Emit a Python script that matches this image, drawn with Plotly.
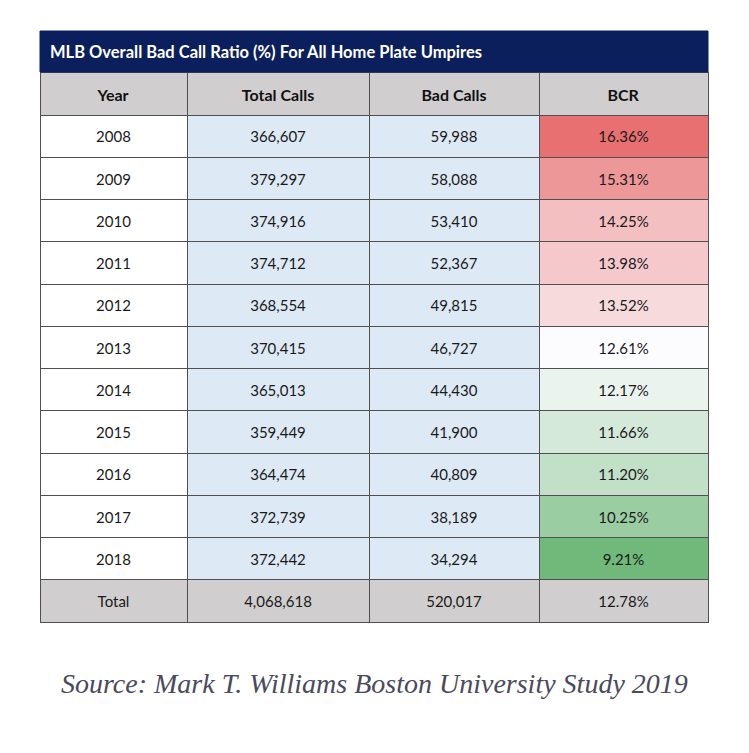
import plotly.graph_objects as go

# page has an 8px body margin; reference coords are converted accordingly
OFF = 8
W, H = 749 - 2 * OFF, 753 - 2 * OFF

title = "MLB Overall Bad Call Ratio (%) For All Home Plate Umpires"
headers = ["Year", "Total Calls", "Bad Calls", "BCR"]
years = ["2008", "2009", "2010", "2011", "2012", "2013", "2014", "2015", "2016", "2017", "2018"]
total_calls = [366607, 379297, 374916, 374712, 368554, 370415, 365013, 359449, 364474, 372739, 372442]
bad_calls = [59988, 58088, 53410, 52367, 49815, 46727, 44430, 41900, 40809, 38189, 34294]
bcr = [16.36, 15.31, 14.25, 13.98, 13.52, 12.61, 12.17, 11.66, 11.20, 10.25, 9.21]
total_label = "Total"
total_total_calls = 4068618
total_bad_calls = 520017
total_bcr = 12.78
source = "Source: Mark T. Williams Boston University Study 2019"

# 3-colour scale (red high, white median, green low)
RED = (233, 112, 112)
WHITE = (252, 252, 255)
GREEN = (112, 185, 122)
srt = sorted(bcr)
mid = srt[len(srt) // 2]
hi, lo = max(bcr), min(bcr)


def mix(a, b, t):
    return "rgb(%d,%d,%d)" % tuple(round(a[i] + (b[i] - a[i]) * t) for i in range(3))


def scale_color(v):
    if v >= mid:
        return mix(WHITE, RED, (v - mid) / (hi - mid))
    return mix(WHITE, GREEN, (mid - v) / (mid - lo))


def fx(px):
    return (px - OFF) / W


def fy(py):
    return 1 - (py - OFF) / H


GRAY = "#d0cece"
BLUE = "#dde9f5"
NAVY = "#0b1f5c"
LINE = "#505050"
CLEAR = "rgba(0,0,0,0)"

col_year = years + [total_label]
col_tc = [f"{v:,}" for v in total_calls] + [f"{total_total_calls:,}"]
col_bc = [f"{v:,}" for v in bad_calls] + [f"{total_bad_calls:,}"]
col_bcr = [f"{v:.2f}%" for v in bcr] + [f"{total_bcr:.2f}%"]

fill_year = ["white"] * len(years) + [GRAY]
fill_blue = [BLUE] * len(years) + [GRAY]
fill_bcr = [scale_color(v) for v in bcr] + [GRAY]

x0, x1 = 40, 708
ytitle0, ytop, ybot = 31, 72, 622
HEAD_H = 43
nrows = len(col_year)
row_h = (ybot - ytop - HEAD_H) / nrows
colw = [147, 182, 170, 169]

# shifts to vertically centre the (top-anchored) table text
S_HEAD, S_CELL = 4.5, 8.0

head_font = dict(family="Lato", size=16, color="#111111")
cell_font = dict(family="Lato", size=15, color="#1a1a1a")
hdr_vals = [f"<b>{h}</b>" for h in headers]
cell_vals = [col_year, col_tc, col_bc, col_bcr]

fig = go.Figure()
# background table: fills and grid lines
fig.add_trace(go.Table(
    domain=dict(x=[fx(x0), fx(x1)], y=[fy(ybot + 2), fy(ytop)]),
    columnwidth=colw,
    header=dict(values=[""] * 4, fill_color=GRAY,
                line=dict(color=LINE, width=1), height=HEAD_H),
    cells=dict(values=[[""] * nrows] * 4,
               fill_color=[fill_year, fill_blue, fill_blue, fill_bcr],
               line=dict(color=LINE, width=1), height=row_h),
))
# text table, offset to centre text vertically
fig.add_trace(go.Table(
    domain=dict(x=[fx(x0), fx(x1)], y=[fy(ybot + 2 + S_CELL), fy(ytop + S_HEAD)]),
    columnwidth=colw,
    header=dict(values=hdr_vals, fill_color=CLEAR, font=head_font,
                line=dict(color=CLEAR, width=0), align="center",
                height=HEAD_H + S_CELL - S_HEAD),
    cells=dict(values=cell_vals, fill_color=CLEAR, font=cell_font,
               line=dict(color=CLEAR, width=0), align="center", height=row_h),
))

fig.add_shape(type="rect", xref="paper", yref="paper",
              x0=fx(x0), x1=fx(x1), y0=fy(ytop), y1=fy(ytitle0),
              fillcolor=NAVY, line=dict(color=NAVY, width=1), layer="above")
fig.add_annotation(xref="paper", yref="paper", x=fx(48), y=fy(51.5),
                   xanchor="left", yanchor="middle", showarrow=False,
                   text=f"<b>{title}</b>",
                   font=dict(family="Lato", size=16.5, color="white"))
fig.add_annotation(xref="paper", yref="paper", x=fx(374.5), y=fy(683),
                   xanchor="center", yanchor="middle", showarrow=False,
                   text=f"<i>{source}</i>",
                   font=dict(family="Liberation Serif", size=28, color="#4a4a5c"))

fig.update_layout(width=W, height=H, margin=dict(l=0, r=0, t=0, b=0),
                  paper_bgcolor="white", plot_bgcolor="white")
fig.write_html("out.html")
